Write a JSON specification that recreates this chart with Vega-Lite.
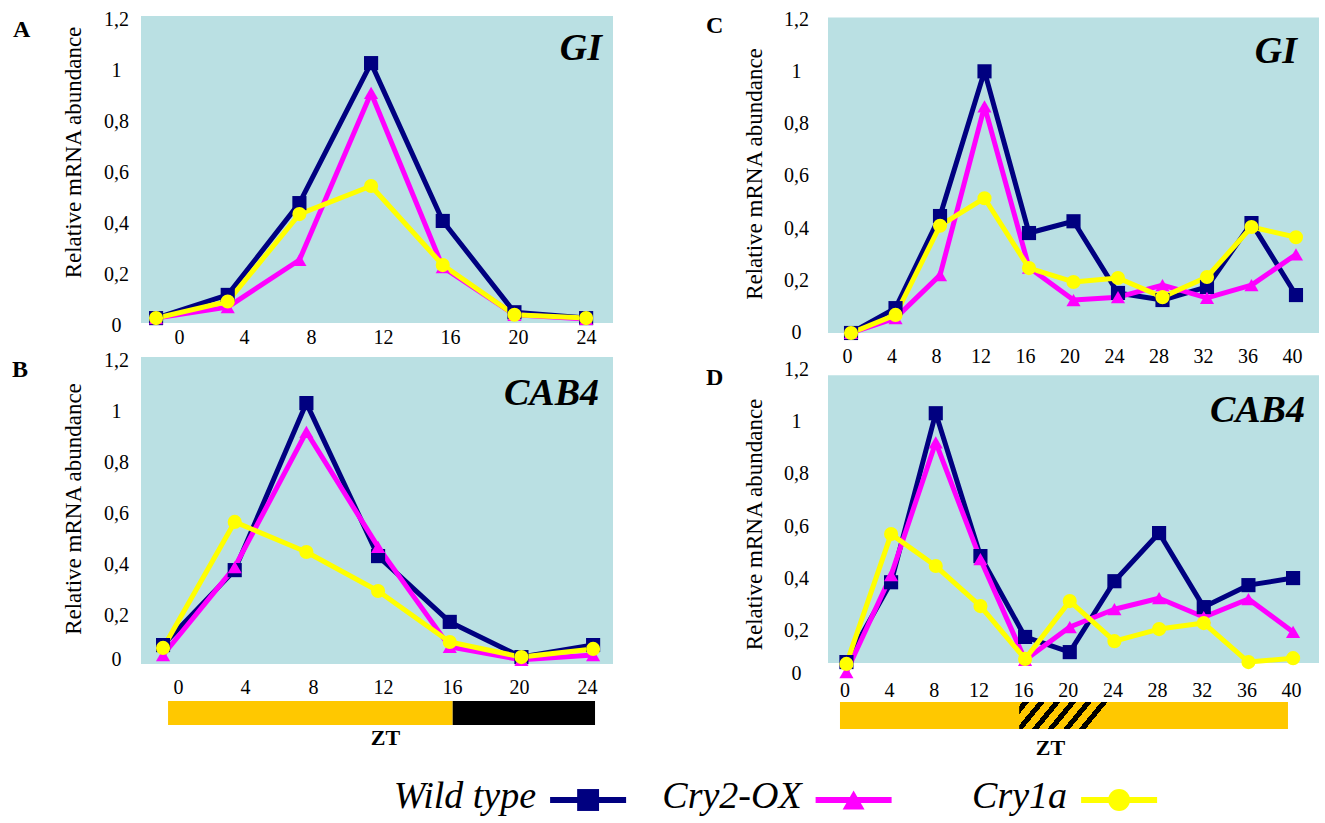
{
  "$schema": "https://vega.github.io/schema/vega-lite/v6.json",
  "padding": {"left": 11, "top": 9, "right": 0, "bottom": 0},
  "background": "white",
  "datasets": {
    "a": [
      {"zt": 0, "series": "Wild type", "value": 0.027}, {"zt": 4, "series": "Wild type", "value": 0.118}, {"zt": 8, "series": "Wild type", "value": 0.478}, {"zt": 12, "series": "Wild type", "value": 1.027}, {"zt": 16, "series": "Wild type", "value": 0.408}, {"zt": 20, "series": "Wild type", "value": 0.05}, {"zt": 24, "series": "Wild type", "value": 0.027},
      {"zt": 0, "series": "Cry2-OX", "value": 0.027}, {"zt": 4, "series": "Cry2-OX", "value": 0.07}, {"zt": 8, "series": "Cry2-OX", "value": 0.255}, {"zt": 12, "series": "Cry2-OX", "value": 0.91}, {"zt": 16, "series": "Cry2-OX", "value": 0.227}, {"zt": 20, "series": "Cry2-OX", "value": 0.04}, {"zt": 24, "series": "Cry2-OX", "value": 0.024},
      {"zt": 0, "series": "Cry1a", "value": 0.027}, {"zt": 4, "series": "Cry1a", "value": 0.092}, {"zt": 8, "series": "Cry1a", "value": 0.435}, {"zt": 12, "series": "Cry1a", "value": 0.545}, {"zt": 16, "series": "Cry1a", "value": 0.235}, {"zt": 20, "series": "Cry1a", "value": 0.04}, {"zt": 24, "series": "Cry1a", "value": 0.027}
    ],
    "b": [
      {"zt": 0, "series": "Wild type", "value": 0.082}, {"zt": 4, "series": "Wild type", "value": 0.376}, {"zt": 8, "series": "Wild type", "value": 1.031}, {"zt": 12, "series": "Wild type", "value": 0.431}, {"zt": 16, "series": "Wild type", "value": 0.173}, {"zt": 20, "series": "Wild type", "value": 0.035}, {"zt": 24, "series": "Wild type", "value": 0.082},
      {"zt": 0, "series": "Cry2-OX", "value": 0.043}, {"zt": 4, "series": "Cry2-OX", "value": 0.388}, {"zt": 8, "series": "Cry2-OX", "value": 0.918}, {"zt": 12, "series": "Cry2-OX", "value": 0.467}, {"zt": 16, "series": "Cry2-OX", "value": 0.075}, {"zt": 20, "series": "Cry2-OX", "value": 0.024}, {"zt": 24, "series": "Cry2-OX", "value": 0.043},
      {"zt": 0, "series": "Cry1a", "value": 0.071}, {"zt": 4, "series": "Cry1a", "value": 0.565}, {"zt": 8, "series": "Cry1a", "value": 0.447}, {"zt": 12, "series": "Cry1a", "value": 0.294}, {"zt": 16, "series": "Cry1a", "value": 0.094}, {"zt": 20, "series": "Cry1a", "value": 0.035}, {"zt": 24, "series": "Cry1a", "value": 0.067}
    ],
    "c": [
      {"zt": 0, "series": "Wild type", "value": 0.0}, {"zt": 4, "series": "Wild type", "value": 0.095}, {"zt": 8, "series": "Wild type", "value": 0.447}, {"zt": 12, "series": "Wild type", "value": 1.0}, {"zt": 16, "series": "Wild type", "value": 0.382}, {"zt": 20, "series": "Wild type", "value": 0.427}, {"zt": 24, "series": "Wild type", "value": 0.153}, {"zt": 28, "series": "Wild type", "value": 0.126}, {"zt": 32, "series": "Wild type", "value": 0.176}, {"zt": 36, "series": "Wild type", "value": 0.42}, {"zt": 40, "series": "Wild type", "value": 0.145},
      {"zt": 0, "series": "Cry2-OX", "value": 0.0}, {"zt": 4, "series": "Cry2-OX", "value": 0.057}, {"zt": 8, "series": "Cry2-OX", "value": 0.221}, {"zt": 12, "series": "Cry2-OX", "value": 0.866}, {"zt": 16, "series": "Cry2-OX", "value": 0.25}, {"zt": 20, "series": "Cry2-OX", "value": 0.126}, {"zt": 24, "series": "Cry2-OX", "value": 0.137}, {"zt": 28, "series": "Cry2-OX", "value": 0.183}, {"zt": 32, "series": "Cry2-OX", "value": 0.134}, {"zt": 36, "series": "Cry2-OX", "value": 0.183}, {"zt": 40, "series": "Cry2-OX", "value": 0.3},
      {"zt": 0, "series": "Cry1a", "value": 0.0}, {"zt": 4, "series": "Cry1a", "value": 0.069}, {"zt": 8, "series": "Cry1a", "value": 0.41}, {"zt": 12, "series": "Cry1a", "value": 0.515}, {"zt": 16, "series": "Cry1a", "value": 0.248}, {"zt": 20, "series": "Cry1a", "value": 0.195}, {"zt": 24, "series": "Cry1a", "value": 0.21}, {"zt": 28, "series": "Cry1a", "value": 0.137}, {"zt": 32, "series": "Cry1a", "value": 0.214}, {"zt": 36, "series": "Cry1a", "value": 0.405}, {"zt": 40, "series": "Cry1a", "value": 0.366}
    ],
    "d": [
      {"zt": 0, "series": "Wild type", "value": 0.08}, {"zt": 4, "series": "Wild type", "value": 0.385}, {"zt": 8, "series": "Wild type", "value": 1.031}, {"zt": 12, "series": "Wild type", "value": 0.485}, {"zt": 16, "series": "Wild type", "value": 0.176}, {"zt": 20, "series": "Wild type", "value": 0.118}, {"zt": 24, "series": "Wild type", "value": 0.389}, {"zt": 28, "series": "Wild type", "value": 0.573}, {"zt": 32, "series": "Wild type", "value": 0.29}, {"zt": 36, "series": "Wild type", "value": 0.374}, {"zt": 40, "series": "Wild type", "value": 0.401},
      {"zt": 0, "series": "Cry2-OX", "value": 0.042}, {"zt": 4, "series": "Cry2-OX", "value": 0.412}, {"zt": 8, "series": "Cry2-OX", "value": 0.92}, {"zt": 12, "series": "Cry2-OX", "value": 0.473}, {"zt": 16, "series": "Cry2-OX", "value": 0.088}, {"zt": 20, "series": "Cry2-OX", "value": 0.214}, {"zt": 24, "series": "Cry2-OX", "value": 0.282}, {"zt": 28, "series": "Cry2-OX", "value": 0.324}, {"zt": 32, "series": "Cry2-OX", "value": 0.252}, {"zt": 36, "series": "Cry2-OX", "value": 0.321}, {"zt": 40, "series": "Cry2-OX", "value": 0.195},
      {"zt": 0, "series": "Cry1a", "value": 0.073}, {"zt": 4, "series": "Cry1a", "value": 0.569}, {"zt": 8, "series": "Cry1a", "value": 0.447}, {"zt": 12, "series": "Cry1a", "value": 0.294}, {"zt": 16, "series": "Cry1a", "value": 0.092}, {"zt": 20, "series": "Cry1a", "value": 0.313}, {"zt": 24, "series": "Cry1a", "value": 0.16}, {"zt": 28, "series": "Cry1a", "value": 0.206}, {"zt": 32, "series": "Cry1a", "value": 0.229}, {"zt": 36, "series": "Cry1a", "value": 0.08}, {"zt": 40, "series": "Cry1a", "value": 0.095}
    ]
  },
  "spacing": 20,
  "vconcat": [
    {
      "spacing": 93,
      "hconcat": [
        {
          "bounds": "flush",
          "spacing": 35,
          "vconcat": [
            {
              "width": 472, "height": 306,
              "data": {"name": "a"},
              "layer": [
                {"data": {"values": [{"region": "plot"}]}, "mark": {"type": "rect", "color": "#BAE0E3"},
                 "encoding": {"x": {"value": 0}, "x2": {"value": "width"}, "y": {"datum": 1.212, "type": "quantitative", "scale": {"domain": [0, 1.2], "nice": false, "zero": false}}, "y2": {"datum": 0.008}}},
                {"mark": {"type": "line", "strokeWidth": 5, "strokeJoin": "round"},
                 "encoding": {
                   "x": {"field": "zt", "type": "quantitative", "scale": {"domain": [-0.84, 25.5], "nice": false, "zero": false},
                         "axis": {"values": [1.28, 4.91, 8.65, 12.67, 16.41, 20.2, 24.0], "labelExpr": "format(round(datum.value/4)*4,'d')", "title": null, "labelPadding": 2.8, "labelFlush": false, "labelOverlap": false, "labelFontSize": 20, "labelFont": "Liberation Serif"}},
                   "y": {"field": "value", "type": "quantitative", "scale": {"domain": [0, 1.2], "nice": false, "zero": false},
                         "axis": {"values": [0, 0.2, 0.4, 0.6, 0.8, 1, 1.2], "labelExpr": "replace(format(round(datum.value*5)/5,'.1~f'),'.',',')", "title": "Relative mRNA abundance", "titleFont": "Liberation Serif", "titleFontSize": 23, "titleFontWeight": "normal", "titleAngle": 270, "titleX": -68, "titleY": 133, "titleBaseline": "middle", "titleAlign": "center", "labelAlign": "center", "labelBaseline": "middle", "labelPadding": 25, "labelFontSize": 20, "labelFont": "Liberation Serif", "labelOverlap": false, "labelFlush": false}},
                   "color": {"field": "series", "type": "nominal", "scale": {"domain": ["Wild type", "Cry2-OX", "Cry1a"], "range": ["#000080", "#FF00FF", "#FFFF00"]}, "legend": null}
                 }},
                {"mark": {"type": "point", "filled": true, "size": 200, "opacity": 1},
                 "encoding": {
                   "x": {"field": "zt", "type": "quantitative", "scale": {"domain": [-0.84, 25.5], "nice": false, "zero": false}},
                   "y": {"field": "value", "type": "quantitative", "scale": {"domain": [0, 1.2], "nice": false, "zero": false}},
                   "color": {"field": "series", "type": "nominal", "scale": {"domain": ["Wild type", "Cry2-OX", "Cry1a"], "range": ["#000080", "#FF00FF", "#FFFF00"]}, "legend": null},
                   "shape": {"field": "series", "type": "nominal", "scale": {"domain": ["Wild type", "Cry2-OX", "Cry1a"], "range": ["square", "triangle-up", "circle"]}, "legend": null}
                 }},
                {"data": {"values": [{"label": "A"}]}, "mark": {"type": "text", "align": "left", "baseline": "alphabetic", "font": "Liberation Serif", "fontSize": 24, "fontWeight": "bold", "color": "black"},
                 "encoding": {"x": {"datum": -7.98, "type": "quantitative", "scale": {"domain": [-0.84, 25.5], "nice": false, "zero": false}}, "y": {"datum": 1.129, "type": "quantitative", "scale": {"domain": [0, 1.2], "nice": false, "zero": false}}, "text": {"field": "label"}}},
                {"data": {"values": [{"gene": "GI"}]}, "mark": {"type": "text", "align": "right", "baseline": "alphabetic", "font": "Liberation Serif", "fontSize": 38, "fontWeight": "bold", "fontStyle": "italic", "color": "black"},
                 "encoding": {"x": {"datum": 24.89, "type": "quantitative", "scale": {"domain": [-0.84, 25.5], "nice": false, "zero": false}}, "y": {"datum": 1.039, "type": "quantitative", "scale": {"domain": [0, 1.2], "nice": false, "zero": false}}, "text": {"field": "gene"}}}
              ]
            },
            {
              "width": 472, "height": 306,
              "data": {"name": "b"},
              "layer": [
                {"data": {"values": [{"region": "plot"}]}, "mark": {"type": "rect", "color": "#BAE0E3"},
                 "encoding": {"x": {"value": 0}, "x2": {"value": "width"}, "y": {"datum": 1.212, "type": "quantitative", "scale": {"domain": [0, 1.2], "nice": false, "zero": false}}, "y2": {"datum": 0.008}}},
                {"mark": {"type": "line", "strokeWidth": 5, "strokeJoin": "round"},
                 "encoding": {
                   "x": {"field": "zt", "type": "quantitative", "scale": {"domain": [-1.23, 25.11], "nice": false, "zero": false},
                         "axis": {"values": [0.84, 4.58, 8.37, 12.28, 16.13, 19.87, 23.66], "labelExpr": "format(round(datum.value/4)*4,'d')", "title": null, "labelPadding": 11.8, "labelFlush": false, "labelOverlap": false, "labelFontSize": 20, "labelFont": "Liberation Serif"}},
                   "y": {"field": "value", "type": "quantitative", "scale": {"domain": [0, 1.2], "nice": false, "zero": false},
                         "axis": {"values": [0.027, 0.2, 0.4, 0.6, 0.8, 1, 1.2], "labelExpr": "replace(format(round(datum.value*5)/5,'.1~f'),'.',',')", "title": "Relative mRNA abundance", "titleFont": "Liberation Serif", "titleFontSize": 23, "titleFontWeight": "normal", "titleAngle": 270, "titleX": -68, "titleY": 148.5, "titleBaseline": "middle", "titleAlign": "center", "labelAlign": "center", "labelBaseline": "middle", "labelPadding": 25, "labelFontSize": 20, "labelFont": "Liberation Serif", "labelOverlap": false, "labelFlush": false}},
                   "color": {"field": "series", "type": "nominal", "scale": {"domain": ["Wild type", "Cry2-OX", "Cry1a"], "range": ["#000080", "#FF00FF", "#FFFF00"]}, "legend": null}
                 }},
                {"mark": {"type": "point", "filled": true, "size": 200, "opacity": 1},
                 "encoding": {
                   "x": {"field": "zt", "type": "quantitative", "scale": {"domain": [-1.23, 25.11], "nice": false, "zero": false}},
                   "y": {"field": "value", "type": "quantitative", "scale": {"domain": [0, 1.2], "nice": false, "zero": false}},
                   "color": {"field": "series", "type": "nominal", "scale": {"domain": ["Wild type", "Cry2-OX", "Cry1a"], "range": ["#000080", "#FF00FF", "#FFFF00"]}, "legend": null},
                   "shape": {"field": "series", "type": "nominal", "scale": {"domain": ["Wild type", "Cry2-OX", "Cry1a"], "range": ["square", "triangle-up", "circle"]}, "legend": null}
                 }},
                {"data": {"values": [{"label": "B"}]}, "mark": {"type": "text", "align": "left", "baseline": "alphabetic", "font": "Liberation Serif", "fontSize": 24, "fontWeight": "bold", "color": "black"},
                 "encoding": {"x": {"datum": -8.43, "type": "quantitative", "scale": {"domain": [-1.23, 25.11], "nice": false, "zero": false}}, "y": {"datum": 1.133, "type": "quantitative", "scale": {"domain": [0, 1.2], "nice": false, "zero": false}}, "text": {"field": "label"}}},
                {"data": {"values": [{"gene": "CAB4"}]}, "mark": {"type": "text", "align": "right", "baseline": "alphabetic", "font": "Liberation Serif", "fontSize": 38, "fontWeight": "bold", "fontStyle": "italic", "color": "black"},
                 "encoding": {"x": {"datum": 24.33, "type": "quantitative", "scale": {"domain": [-1.23, 25.11], "nice": false, "zero": false}}, "y": {"datum": 1.024, "type": "quantitative", "scale": {"domain": [0, 1.2], "nice": false, "zero": false}}, "text": {"field": "gene"}}}
              ]
            },
            {
              "width": 472, "height": 24,
              "data": {"values": [{"start": 0, "end": 16, "phase": "light"}, {"start": 16, "end": 24, "phase": "dark"}]},
              "mark": {"type": "rect"},
              "encoding": {
                "x": {"field": "start", "type": "quantitative", "scale": {"domain": [-1.52, 25.01], "nice": false, "zero": false},
                      "axis": {"title": "ZT", "labels": false, "ticks": false, "domain": false, "grid": false, "titleFont": "Liberation Serif", "titleFontWeight": "bold", "titleFontSize": 22, "titlePadding": 2, "titleX": 244}},
                "x2": {"field": "end"},
                "fill": {"field": "phase", "type": "nominal", "scale": {"domain": ["light", "dark"], "range": ["#FFC800", "#000000"]}, "legend": null}
              }
            }
          ]
        },
        {
          "bounds": "flush",
          "spacing": 19,
          "vconcat": [
            {
              "width": 491, "height": 331,
              "data": {"name": "c"},
              "layer": [
                {"data": {"values": [{"region": "plot"}]}, "mark": {"type": "rect", "color": "#BAE0E3"},
                 "encoding": {"x": {"value": 0}, "x2": {"value": "width"}, "y": {"datum": 1.206, "type": "quantitative", "scale": {"domain": [-0.065, 1.2], "nice": false, "zero": false}}, "y2": {"datum": 0}}},
                {"mark": {"type": "line", "strokeWidth": 5, "strokeJoin": "round"},
                 "encoding": {
                   "x": {"field": "zt", "type": "quantitative", "scale": {"domain": [-2.07, 42.07], "nice": false, "zero": false},
                         "axis": {"values": [0, 4, 8, 12, 16, 20, 24, 28, 32, 36, 40], "labelOffset": -4, "title": null, "labelPadding": -3.2, "labelFlush": false, "labelOverlap": false, "labelFontSize": 20, "labelFont": "Liberation Serif"}},
                   "y": {"field": "value", "type": "quantitative", "scale": {"domain": [-0.065, 1.2], "nice": false, "zero": false},
                         "axis": {"values": [0, 0.2, 0.4, 0.6, 0.8, 1, 1.2], "labelExpr": "replace(format(round(datum.value*5)/5,'.1~f'),'.',',')", "title": "Relative mRNA abundance", "titleFont": "Liberation Serif", "titleFontSize": 23, "titleFontWeight": "normal", "titleAngle": 270, "titleX": -74, "titleY": 154.5, "titleBaseline": "middle", "titleAlign": "center", "labelAlign": "center", "labelBaseline": "middle", "labelPadding": 32, "labelFontSize": 20, "labelFont": "Liberation Serif", "labelOverlap": false, "labelFlush": false}},
                   "color": {"field": "series", "type": "nominal", "scale": {"domain": ["Wild type", "Cry2-OX", "Cry1a"], "range": ["#000080", "#FF00FF", "#FFFF00"]}, "legend": null}
                 }},
                {"mark": {"type": "point", "filled": true, "size": 200, "opacity": 1},
                 "encoding": {
                   "x": {"field": "zt", "type": "quantitative", "scale": {"domain": [-2.07, 42.07], "nice": false, "zero": false}},
                   "y": {"field": "value", "type": "quantitative", "scale": {"domain": [-0.065, 1.2], "nice": false, "zero": false}},
                   "color": {"field": "series", "type": "nominal", "scale": {"domain": ["Wild type", "Cry2-OX", "Cry1a"], "range": ["#000080", "#FF00FF", "#FFFF00"]}, "legend": null},
                   "shape": {"field": "series", "type": "nominal", "scale": {"domain": ["Wild type", "Cry2-OX", "Cry1a"], "range": ["square", "triangle-up", "circle"]}, "legend": null}
                 }},
                {"data": {"values": [{"label": "C"}]}, "mark": {"type": "text", "align": "left", "baseline": "alphabetic", "font": "Liberation Serif", "fontSize": 24, "fontWeight": "bold", "color": "black"},
                 "encoding": {"x": {"datum": -13.03, "type": "quantitative", "scale": {"domain": [-2.07, 42.07], "nice": false, "zero": false}}, "y": {"datum": 1.145, "type": "quantitative", "scale": {"domain": [-0.065, 1.2], "nice": false, "zero": false}}, "text": {"field": "label"}}},
                {"data": {"values": [{"gene": "GI"}]}, "mark": {"type": "text", "align": "right", "baseline": "alphabetic", "font": "Liberation Serif", "fontSize": 38, "fontWeight": "bold", "fontStyle": "italic", "color": "black"},
                 "encoding": {"x": {"datum": 40.09, "type": "quantitative", "scale": {"domain": [-2.07, 42.07], "nice": false, "zero": false}}, "y": {"datum": 1.031, "type": "quantitative", "scale": {"domain": [-0.065, 1.2], "nice": false, "zero": false}}, "text": {"field": "gene"}}}
              ]
            },
            {
              "width": 491, "height": 314,
              "data": {"name": "d"},
              "layer": [
                {"data": {"values": [{"region": "plot"}]}, "mark": {"type": "rect", "color": "#BAE0E3"},
                 "encoding": {"x": {"value": 0}, "x2": {"value": "width"}, "y": {"datum": 1.176, "type": "quantitative", "scale": {"domain": [0, 1.2], "nice": false, "zero": false}}, "y2": {"datum": 0.076}}},
                {"mark": {"type": "line", "strokeWidth": 5, "strokeJoin": "round"},
                 "encoding": {
                   "x": {"field": "zt", "type": "quantitative", "scale": {"domain": [-1.65, 42.32], "nice": false, "zero": false},
                         "axis": {"values": [0, 4, 8, 12, 16, 20, 24, 28, 32, 36, 40], "labelOffset": -2, "title": null, "labelPadding": -2.2, "labelFlush": false, "labelOverlap": false, "labelFontSize": 20, "labelFont": "Liberation Serif"}},
                   "y": {"field": "value", "type": "quantitative", "scale": {"domain": [0, 1.2], "nice": false, "zero": false},
                         "axis": {"values": [0.038, 0.2, 0.4, 0.6, 0.8, 1, 1.2], "labelExpr": "replace(format(round(datum.value*5)/5,'.1~f'),'.',',')", "title": "Relative mRNA abundance", "titleFont": "Liberation Serif", "titleFontSize": 23, "titleFontWeight": "normal", "titleAngle": 270, "titleX": -74, "titleY": 155, "titleBaseline": "middle", "titleAlign": "center", "labelAlign": "center", "labelBaseline": "middle", "labelPadding": 32, "labelFontSize": 20, "labelFont": "Liberation Serif", "labelOverlap": false, "labelFlush": false}},
                   "color": {"field": "series", "type": "nominal", "scale": {"domain": ["Wild type", "Cry2-OX", "Cry1a"], "range": ["#000080", "#FF00FF", "#FFFF00"]}, "legend": null}
                 }},
                {"mark": {"type": "point", "filled": true, "size": 200, "opacity": 1},
                 "encoding": {
                   "x": {"field": "zt", "type": "quantitative", "scale": {"domain": [-1.65, 42.32], "nice": false, "zero": false}},
                   "y": {"field": "value", "type": "quantitative", "scale": {"domain": [0, 1.2], "nice": false, "zero": false}},
                   "color": {"field": "series", "type": "nominal", "scale": {"domain": ["Wild type", "Cry2-OX", "Cry1a"], "range": ["#000080", "#FF00FF", "#FFFF00"]}, "legend": null},
                   "shape": {"field": "series", "type": "nominal", "scale": {"domain": ["Wild type", "Cry2-OX", "Cry1a"], "range": ["square", "triangle-up", "circle"]}, "legend": null}
                 }},
                {"data": {"values": [{"label": "D"}]}, "mark": {"type": "text", "align": "left", "baseline": "alphabetic", "font": "Liberation Serif", "fontSize": 24, "fontWeight": "bold", "color": "black"},
                 "encoding": {"x": {"datum": -12.57, "type": "quantitative", "scale": {"domain": [-1.65, 42.32], "nice": false, "zero": false}}, "y": {"datum": 1.137, "type": "quantitative", "scale": {"domain": [0, 1.2], "nice": false, "zero": false}}, "text": {"field": "label"}}},
                {"data": {"values": [{"gene": "CAB4"}]}, "mark": {"type": "text", "align": "right", "baseline": "alphabetic", "font": "Liberation Serif", "fontSize": 38, "fontWeight": "bold", "fontStyle": "italic", "color": "black"},
                 "encoding": {"x": {"datum": 41.06, "type": "quantitative", "scale": {"domain": [-1.65, 42.32], "nice": false, "zero": false}}, "y": {"datum": 0.996, "type": "quantitative", "scale": {"domain": [0, 1.2], "nice": false, "zero": false}}, "text": {"field": "gene"}}}
              ]
            },
            {
              "width": 491, "height": 27,
              "layer": [
                {"data": {"values": [{"start": 0, "end": 40, "phase": "light"}]},
                 "mark": {"type": "rect", "color": "#FFC800"},
                 "encoding": {
                   "x": {"field": "start", "type": "quantitative", "scale": {"domain": [-1.07, 42.77], "nice": false, "zero": false},
                         "axis": {"title": "ZT", "labels": false, "ticks": false, "domain": false, "grid": false, "titleFont": "Liberation Serif", "titleFontWeight": "bold", "titleFontSize": 22, "titlePadding": 8, "titleX": 222}},
                   "x2": {"field": "end"}
                 }},
                {"data": {"values": [{"start": 16, "end": 24, "phase": "subjective night"}]},
                 "mark": {"type": "rect", "color": {"gradient": "linear", "x1": 0, "y1": 0, "x2": 1, "y2": 0.247, "stops": [
                   {"offset": 0, "color": "#FFC800"}, {"offset": 0.035, "color": "#FFC800"}, {"offset": 0.035, "color": "#000000"}, {"offset": 0.105, "color": "#000000"}, {"offset": 0.105, "color": "#FFC800"},
                   {"offset": 0.2, "color": "#FFC800"}, {"offset": 0.2, "color": "#000000"}, {"offset": 0.27, "color": "#000000"}, {"offset": 0.27, "color": "#FFC800"},
                   {"offset": 0.365, "color": "#FFC800"}, {"offset": 0.365, "color": "#000000"}, {"offset": 0.435, "color": "#000000"}, {"offset": 0.435, "color": "#FFC800"},
                   {"offset": 0.53, "color": "#FFC800"}, {"offset": 0.53, "color": "#000000"}, {"offset": 0.6, "color": "#000000"}, {"offset": 0.6, "color": "#FFC800"},
                   {"offset": 0.695, "color": "#FFC800"}, {"offset": 0.695, "color": "#000000"}, {"offset": 0.765, "color": "#000000"}, {"offset": 0.765, "color": "#FFC800"},
                   {"offset": 0.86, "color": "#FFC800"}, {"offset": 0.86, "color": "#000000"}, {"offset": 0.93, "color": "#000000"}, {"offset": 0.93, "color": "#FFC800"},
                   {"offset": 1, "color": "#FFC800"}]}},
                 "encoding": {
                   "x": {"field": "start", "type": "quantitative", "scale": {"domain": [-1.07, 42.77], "nice": false, "zero": false}},
                   "x2": {"field": "end"}
                 }}
              ]
            }
          ]
        }
      ]
    },
    {
      "width": 1062, "height": 40,
      "data": {"values": [{"series": "Wild type"}, {"series": "Cry2-OX"}, {"series": "Cry1a"}]},
      "encoding": {"x": {"field": "series", "type": "nominal", "scale": {"type": "point", "domain": ["Wild type", "Cry2-OX", "Cry1a"], "padding": 1, "align": 0.842}, "axis": null}},
      "layer": [
        {"mark": {"type": "point", "shape": "M-1,0L1,0", "filled": false, "size": 5776, "strokeWidth": 6, "opacity": 1},
         "encoding": {"color": {"field": "series", "type": "nominal", "scale": {"domain": ["Wild type", "Cry2-OX", "Cry1a"], "range": ["#000080", "#FF00FF", "#FFFF00"]}, "legend": null}}},
        {"mark": {"type": "point", "filled": true, "size": 480, "opacity": 1},
         "encoding": {
           "color": {"field": "series", "type": "nominal", "scale": {"domain": ["Wild type", "Cry2-OX", "Cry1a"], "range": ["#000080", "#FF00FF", "#FFFF00"]}, "legend": null},
           "shape": {"field": "series", "type": "nominal", "scale": {"domain": ["Wild type", "Cry2-OX", "Cry1a"], "range": ["square", "triangle-up", "circle"]}, "legend": null}
         }},
        {"mark": {"type": "text", "align": "right", "baseline": "alphabetic", "dx": -52, "dy": 8, "font": "Liberation Serif", "fontSize": 38, "fontStyle": "italic", "color": "black"},
         "encoding": {"text": {"field": "series"}}}
      ]
    }
  ],
  "config": {
    "font": "Liberation Serif",
    "view": {"stroke": null},
    "axis": {"grid": false, "domain": false, "ticks": false, "tickSize": 0, "labelFont": "Liberation Serif", "titleFont": "Liberation Serif", "labelColor": "#000000", "titleColor": "#000000"}
  }
}
